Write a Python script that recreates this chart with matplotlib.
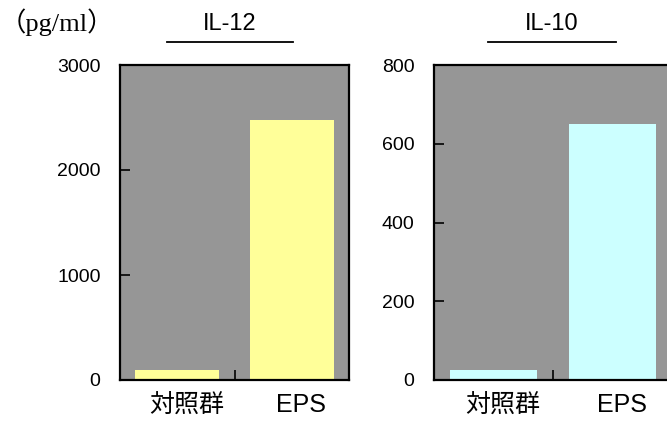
import matplotlib
matplotlib.use("Agg")
import matplotlib.pyplot as plt
from matplotlib.lines import Line2D

sans = ['Liberation Sans', 'Noto Sans CJK JP']
plt.rcParams['font.family'] = sans

groups = ["対照群", "EPS"]
il12 = [95, 2480]
il10 = [25, 650]
il12_ticks = [0, 1000, 2000, 3000]
il10_ticks = [0, 200, 400, 600, 800]

bg = "#969696"
fig = plt.figure(figsize=(6.67, 4.32), dpi=100)


def panel(rect, vals, ticks, color, title, line_x):
    ax = fig.add_axes(rect)
    ax.set_facecolor(bg)
    ax.bar([0, 1], vals, width=0.73, color=color, zorder=2)
    ax.set_xlim(-0.5, 1.5)
    ax.set_ylim(ticks[0], ticks[-1])
    ax.set_yticks(ticks)
    ax.set_yticklabels([str(t) for t in ticks], family=sans, fontsize=14)
    ax.tick_params(axis='y', direction='in', length=7, width=1.2, pad=14)
    # boundary tick between groups, labels at group centres
    ax.set_xticks([0.5])
    ax.set_xticklabels([""])
    ax.tick_params(axis='x', which='major', direction='in', length=7, width=1.2)
    ax.set_xticks([0.08, 1.08], minor=True)
    ax.set_xticklabels(groups, minor=True, fontsize=18, family=sans)
    ax.tick_params(axis='x', which='minor', length=0, pad=9)
    for s in ax.spines.values():
        s.set_linewidth(1.6)
        s.set_zorder(3)
    cx = (line_x[0] + line_x[1]) / 2
    fig.text(cx, 1 - 24 / 432, title, ha='center', va='center',
             fontsize=17, family=sans)
    fig.add_artist(Line2D([line_x[0], line_x[1]], [1 - 42 / 432] * 2,
                          color='black', lw=1.3, transform=fig.transFigure))
    return ax


panel([120 / 667, 52 / 432, 229 / 667, 315 / 432], il12, il12_ticks,
      "#FFFF99", "IL-12", (167 / 667, 293 / 667))
panel([434 / 667, 52 / 432, 238 / 667, 315 / 432], il10, il10_ticks,
      "#CCFFFF", "IL-10", (488 / 667, 616 / 667))

fig.text(0, 1 - 22 / 432, "（pg/ml）", ha='left', va='center',
         fontsize=19, family=['Liberation Serif', 'Noto Sans CJK JP'])

fig.savefig("out.png", dpi=100)
